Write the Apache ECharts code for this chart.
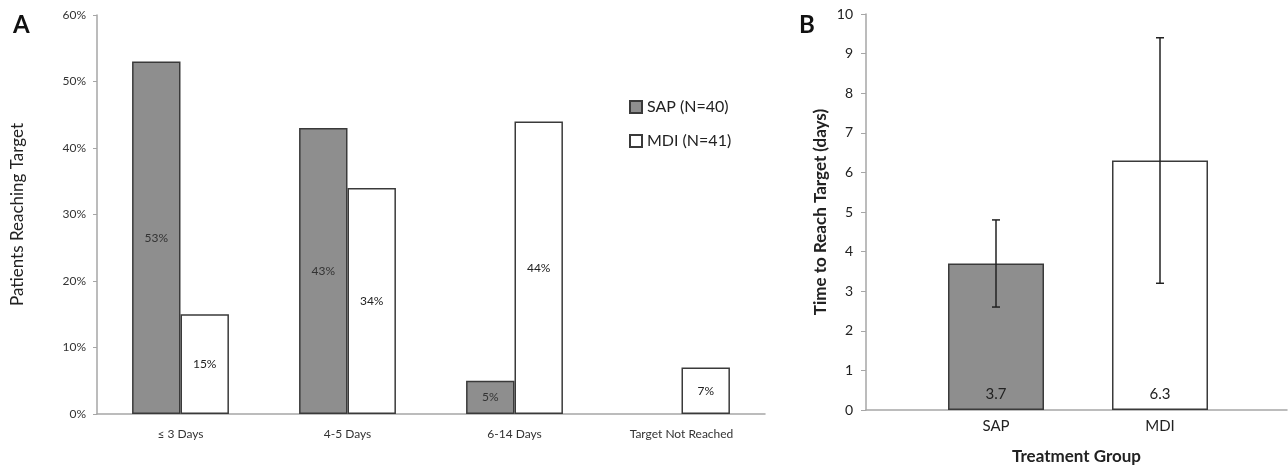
<!DOCTYPE html>
<html>
<head>
<meta charset="utf-8">
<script src="https://cdn.jsdelivr.net/npm/echarts@6/dist/echarts.min.js"></script>
<style>
  html, body { margin: 0; padding: 0; background: #fff; }
  #main { width: 1288px; height: 466px; }
</style>
</head>
<body>
<div id="main"></div>
<script>
// panel A: % of patients reaching target, by time window
var dayCats = ['\u2264 3 Days', '4-5 Days', '6-14 Days', 'Target Not Reached'];
var sapPct = [53, 43, 5, 0];
var mdiPct = [15, 34, 44, 7];

// panel B: mean days to reach target, with error bar ends
var groups = ['SAP', 'MDI'];
var meanDays = [3.7, 6.3];
var errLow = [2.6, 3.2];
var errHigh = [4.8, 9.4];

var GRAY = '#8e8e8e';
var EDGE = '#3a3a3a';
var AXIS = '#a6a6a6';
var FONT = 'Lato, "Noto Sans", sans-serif';

// zero-height bars get no outline (Excel draws nothing there)
function pctItems(arr) {
    return arr.map(function (v) {
        return v ? v : { value: v, itemStyle: { borderWidth: 0 } };
    });
}

var myChart = echarts.init(document.getElementById('main'));
var option = {
    backgroundColor: '#fff',
    textStyle: { fontFamily: FONT },
    animation: false,
    title: [
        { text: 'A', left: 8, top: 8, textStyle: { fontSize: 24, fontWeight: 'bold', color: '#111', fontFamily: FONT } },
        { text: 'B', left: 794, top: 8, textStyle: { fontSize: 24, fontWeight: 'bold', color: '#111', fontFamily: FONT } }
    ],
    legend: {
        data: ['SAP (N=40)', 'MDI (N=41)'],
        orient: 'vertical',
        left: 624,
        top: 94,
        icon: 'rect',
        itemWidth: 12,
        itemHeight: 12,
        itemGap: 18,
        textStyle: { fontSize: 16, color: '#222', fontFamily: FONT }
    },
    grid: [
        { left: 97, top: 15, width: 668, height: 399, outerBoundsMode: 'none' },
        { left: 866, top: 14, width: 421, height: 396, outerBoundsMode: 'none' },
        { left: 914, top: 14, width: 328, height: 396, outerBoundsMode: 'none' }
    ],
    xAxis: [
        {
            type: 'category', gridIndex: 0, data: dayCats,
            axisLine: { lineStyle: { color: AXIS, width: 1.5 } },
            axisTick: { show: false },
            axisLabel: { color: '#333', fontSize: 12, margin: 14 }
        },
        {
            type: 'category', gridIndex: 1, data: [''],
            axisLine: { lineStyle: { color: AXIS, width: 1.5 } },
            axisTick: { show: false },
            axisLabel: { show: false },
            name: 'Treatment Group', nameLocation: 'middle', nameGap: 38,
            nameTextStyle: { fontSize: 17, fontWeight: 'bold', color: '#222' }
        },
        {
            type: 'category', gridIndex: 2, data: groups,
            axisLine: { show: false },
            axisTick: { show: false },
            axisLabel: { color: '#222', fontSize: 15, margin: 9 }
        }
    ],
    yAxis: [
        {
            type: 'value', gridIndex: 0, min: 0, max: 60, interval: 10,
            axisLine: { show: true, lineStyle: { color: AXIS, width: 1.5 } },
            axisTick: { show: true, length: 4, lineStyle: { color: AXIS } },
            splitLine: { show: false },
            axisLabel: { formatter: '{value}%', color: '#333', fontSize: 12, margin: 11 },
            name: 'Patients Reaching Target', nameLocation: 'middle', nameGap: 71, nameRotate: 90,
            nameTextStyle: { fontSize: 17, color: '#222' }
        },
        {
            type: 'value', gridIndex: 1, min: 0, max: 10, interval: 1,
            axisLine: { show: true, lineStyle: { color: AXIS, width: 1.5 } },
            axisTick: { show: true, length: 5, lineStyle: { color: AXIS } },
            splitLine: { show: false },
            axisLabel: { color: '#222', fontSize: 14, margin: 13 },
            name: 'Time to Reach Target (days)', nameLocation: 'middle', nameGap: 37, nameRotate: 90,
            nameTextStyle: { fontSize: 17, fontWeight: 'bold', color: '#222' }
        },
        {
            type: 'value', gridIndex: 2, min: 0, max: 10, interval: 1, show: false
        }
    ],
    series: [
        {
            name: 'SAP (N=40)', type: 'bar', xAxisIndex: 0, yAxisIndex: 0,
            data: pctItems(sapPct), barGap: '0%', barCategoryGap: '42%',
            itemStyle: { color: GRAY, borderColor: EDGE, borderWidth: 1.5 },
            label: {
                show: true, position: 'inside', fontSize: 12, color: '#333',
                formatter: function (p) { return p.value ? p.value + '%' : ''; }
            }
        },
        {
            name: 'MDI (N=41)', type: 'bar', xAxisIndex: 0, yAxisIndex: 0,
            data: pctItems(mdiPct), barGap: '0%', barCategoryGap: '42%',
            itemStyle: { color: '#fff', borderColor: EDGE, borderWidth: 1.5 },
            label: {
                show: true, position: 'inside', fontSize: 12, color: '#222',
                formatter: function (p) { return p.value ? p.value + '%' : ''; }
            }
        },
        {
            name: 'days', type: 'bar', xAxisIndex: 2, yAxisIndex: 2,
            barWidth: 96,
            data: meanDays.map(function (v, i) {
                return { value: v, itemStyle: { color: i === 0 ? GRAY : '#fff' } };
            }),
            itemStyle: { borderColor: EDGE, borderWidth: 1.5 },
            label: { show: true, position: 'insideBottom', distance: 8, fontSize: 15, color: '#222' }
        },
        {
            name: 'err', type: 'custom', xAxisIndex: 2, yAxisIndex: 2, z: 5,
            data: groups.map(function (g, i) { return [i, errLow[i], errHigh[i]]; }),
            renderItem: function (params, api) {
                var lo = api.coord([api.value(0), api.value(1)]);
                var hi = api.coord([api.value(0), api.value(2)]);
                var cap = 4;
                var st = { stroke: '#222', lineWidth: 1.5 };
                return {
                    type: 'group',
                    children: [
                        { type: 'line', shape: { x1: lo[0], y1: lo[1], x2: hi[0], y2: hi[1] }, style: st },
                        { type: 'line', shape: { x1: lo[0] - cap, y1: lo[1], x2: lo[0] + cap, y2: lo[1] }, style: st },
                        { type: 'line', shape: { x1: hi[0] - cap, y1: hi[1], x2: hi[0] + cap, y2: hi[1] }, style: st }
                    ]
                };
            }
        }
    ]
};
option && myChart.setOption(option);
</script>
</body>
</html>
